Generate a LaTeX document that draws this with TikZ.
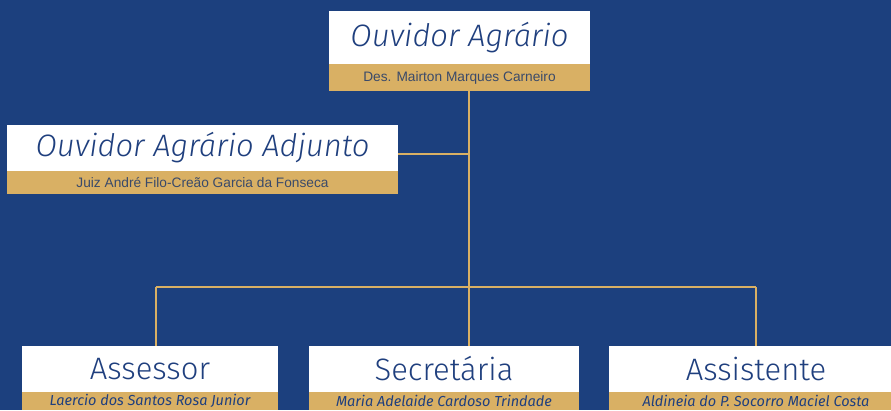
\documentclass[tikz,border=0pt]{standalone}
\usepackage{fontspec}
\setmainfont{Fira Sans}
\newfontfamily\titlefont{Fira Sans Light}
\newfontfamily\namefont{Liberation Sans}
\definecolor{bg}{HTML}{1C407E}
\definecolor{ink}{HTML}{1F3F7E}
\definecolor{gold}{HTML}{D9B064}
\definecolor{inkname}{HTML}{3A4A6A}
\tikzset{
  titlebox/.style={fill=white, inner sep=0pt, text=ink, font=\titlefont\fontsize{31}{34}\selectfont},
  strip/.style={fill=gold, inner sep=0pt, text=inkname, font=\namefont\fontsize{13.7}{15}\selectfont},
  botstrip/.style={fill=gold, inner sep=0pt, text=ink, font=\itshape\fontsize{14.5}{16}\selectfont},
  conn/.style={draw=gold, line width=2.2pt}
}
\begin{document}
\begin{tikzpicture}[x=1pt,y=-1pt]
\useasboundingbox (0,0) rectangle (891,410);
\clip (0,0) rectangle (891,410);
\fill[bg] (0,0) rectangle (891,410);
% top
\node[titlebox, minimum width=261pt, minimum height=53pt] (t1) at (459.5,37.5) {\itshape Ouvidor Agrário};
\node[strip, minimum width=261pt, minimum height=27pt] (s1) at (459.5,77.5) {Des. Mairton Marques Carneiro};
% adjunto
\node[titlebox, minimum width=391pt, minimum height=46pt] (t2) at (202.5,148) {\itshape Ouvidor Agrário Adjunto};
\node[strip, minimum width=391pt, minimum height=23pt] (s2) at (202.5,182.5) {Juiz André Filo-Creão Garcia da Fonseca};
% bottom
\node[titlebox, minimum width=256pt, minimum height=46pt] (t3) at (150,369) {Assessor};
\node[botstrip, minimum width=256pt, minimum height=18pt] (s3) at (150,401) {Laercio dos Santos Rosa Junior};
\node[titlebox, minimum width=270pt, minimum height=46pt] (t4) at (444,369) {Secretária};
\node[botstrip, minimum width=270pt, minimum height=18pt] (s4) at (444,401) {Maria Adelaide Cardoso Trindade};
\node[titlebox, minimum width=294pt, minimum height=46pt] (t5) at (756,369) {Assistente};
\node[botstrip, minimum width=294pt, minimum height=18pt] (s5) at (756,401) {Aldineia do P. Socorro Maciel Costa};
% connectors
\coordinate (bus) at (469,287);
\coordinate (busL) at (156,287);
\coordinate (busR) at (756,287);
\coordinate (adj) at (469,154);
\draw[conn] (s1.south -| bus) -- (bus);
\draw[conn] (t2.east |- adj) -- (adj);
\draw[conn] (busL) -- (busR);
\draw[conn] (busL) -- (t3.north -| busL);
\draw[conn] (bus) -- (t4.north -| bus);
\draw[conn] (busR) -- (t5.north -| busR);
\end{tikzpicture}
\end{document}
